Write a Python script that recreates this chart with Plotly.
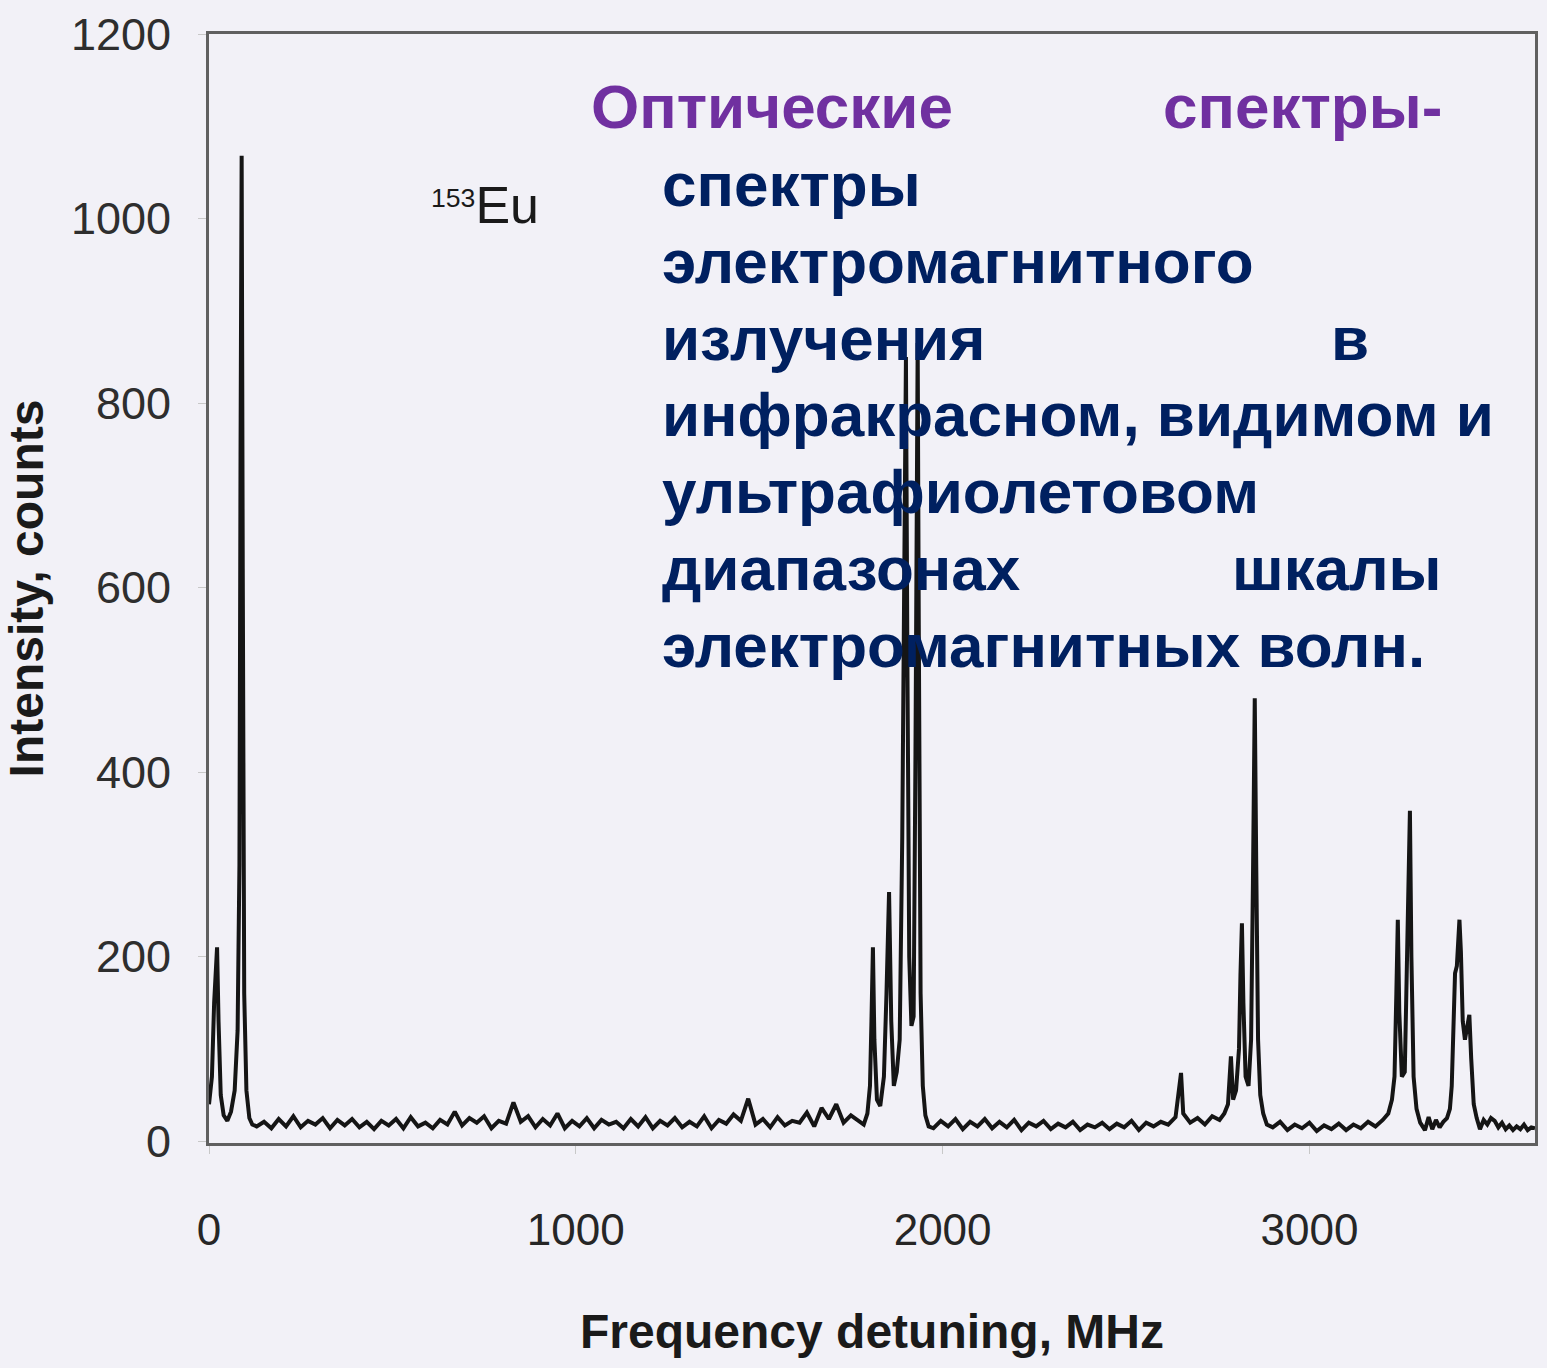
import plotly.graph_objects as go

# ---------------- data ----------------
# left doublet
freq_a = [0, 8, 14, 19, 22, 26, 32, 40, 50, 60, 70, 78, 83, 86, 89, 92, 96, 102, 110, 118]
int_a = [40, 70, 150, 190, 210, 130, 50, 28, 22, 32, 55, 120, 300, 750, 1068, 620, 160, 55, 25, 18]

# baseline 120..1790 MHz (noise)
freq_b = [130, 150, 170, 190, 210, 230, 250, 270, 290, 310, 330, 350, 370, 390, 410, 430,
          450, 470, 490, 510, 530, 550, 570, 590, 610, 630, 650, 670, 690, 710, 730, 750,
          770, 790, 810, 830, 850, 870, 890, 910, 930, 950, 970, 990, 1010, 1030, 1050, 1070,
          1090, 1110, 1130, 1150, 1170, 1190, 1210, 1230, 1250, 1270, 1290, 1310, 1330, 1350,
          1370, 1390, 1410, 1430, 1450, 1470, 1490, 1510, 1530, 1550, 1570, 1590, 1610, 1630,
          1650, 1670, 1690, 1710, 1730, 1750, 1770, 1785]
int_b = [16, 21, 14, 24, 16, 27, 15, 22, 18, 25, 14, 23, 17, 24, 15, 21, 13, 22, 17, 24,
         14, 26, 16, 20, 14, 23, 18, 32, 17, 25, 20, 27, 14, 22, 19, 42, 21, 27, 15, 24,
         17, 30, 14, 22, 16, 25, 14, 23, 18, 21, 14, 24, 16, 26, 14, 22, 17, 25, 15, 21,
         16, 27, 14, 23, 19, 29, 22, 46, 18, 24, 15, 26, 17, 22, 20, 31, 16, 36, 24, 40,
         20, 28, 22, 18]

# first cluster 1800..1960 MHz
freq_c = [1795, 1802, 1806, 1810, 1814, 1821, 1830, 1840, 1847, 1854, 1860, 1867, 1875,
          1883, 1890, 1896, 1900, 1904, 1909, 1915, 1921, 1926, 1929, 1932, 1935, 1940,
          1946, 1953, 1962]
int_c = [30, 60, 130, 210, 110, 45, 38, 70, 160, 270, 130, 60, 75, 110, 330, 620, 850,
         520, 200, 125, 135, 420, 700, 865, 560, 160, 60, 28, 16]

# baseline 1970..2770 MHz
freq_d = [1975, 1995, 2015, 2035, 2055, 2075, 2095, 2115, 2135, 2155, 2175, 2195, 2215,
          2235, 2255, 2275, 2295, 2315, 2335, 2355, 2375, 2395, 2415, 2435, 2455, 2475,
          2495, 2515, 2535, 2555, 2575, 2595, 2615, 2635, 2645, 2650, 2656, 2675, 2695,
          2715, 2735, 2755, 2768]
int_d = [14, 22, 16, 24, 13, 21, 16, 24, 14, 21, 15, 23, 12, 20, 16, 22, 13, 19, 15, 21,
         12, 18, 15, 20, 13, 19, 15, 22, 12, 20, 16, 21, 18, 26, 58, 74, 30, 20, 25, 18,
         27, 23, 30]

# second cluster 2775..2890 MHz
freq_e = [2778, 2786, 2792, 2800, 2808, 2812, 2816, 2820, 2826, 2834, 2841, 2846, 2851,
          2855, 2860, 2866, 2874, 2884]
int_e = [40, 92, 45, 55, 100, 180, 236, 150, 70, 60, 110, 280, 480, 300, 110, 50, 30, 18]

# baseline 2890..3225 MHz
freq_f = [2900, 2920, 2940, 2960, 2980, 3000, 3020, 3040, 3060, 3080, 3100, 3120, 3140,
          3160, 3180, 3200, 3215]
int_f = [15, 21, 12, 18, 14, 20, 11, 17, 13, 19, 12, 18, 14, 21, 16, 23, 30]

# third cluster 3225..3305 MHz
freq_g = [3225, 3232, 3237, 3241, 3245, 3252, 3260, 3265, 3270, 3274, 3278, 3284, 3292, 3302]
int_g = [45, 70, 160, 240, 140, 70, 75, 170, 260, 358, 200, 70, 35, 20]

# baseline 3305..3385 MHz
freq_h = [3315, 3325, 3335, 3345, 3355, 3365, 3375, 3383]
int_h = [12, 26, 13, 23, 15, 21, 25, 35]

# fourth cluster 3385..3460 MHz
freq_i = [3388, 3393, 3397, 3402, 3406, 3409, 3413, 3418, 3424, 3430, 3436, 3441, 3448, 3456]
int_i = [60, 150, 182, 190, 215, 240, 205, 130, 110, 125, 137, 90, 40, 25]

# baseline to right edge
freq_j = [3465, 3475, 3485, 3495, 3505, 3515, 3525, 3535, 3545, 3555, 3565, 3575, 3585,
          3595, 3605, 3615]
int_j = [13, 23, 18, 25, 22, 15, 20, 13, 17, 12, 16, 13, 18, 12, 15, 14]

x_ticks = [0, 1000, 2000, 3000]
y_ticks = [0, 200, 400, 600, 800, 1000, 1200]

x_title = "Frequency detuning, MHz"
y_title = "Intensity, counts"

# ---------------- figure ----------------
freq = freq_a + freq_b + freq_c + freq_d + freq_e + freq_f + freq_g + freq_h + freq_i + freq_j
inten = int_a + int_b + int_c + int_d + int_e + int_f + int_g + int_h + int_i + int_j

BG = "#f2f1f7"
NAVY = "#002060"
PURPLE = "#7030a0"
SANS = "Liberation Sans, Arial, sans-serif"

fig = go.Figure()
fig.add_trace(go.Scatter(x=freq, y=inten, mode="lines",
                         line=dict(color="#151515", width=4), showlegend=False,
                         hoverinfo="skip"))

fig.update_layout(
    width=1547, height=1368,
    paper_bgcolor=BG, plot_bgcolor=BG,
    margin=dict(l=207, r=9, t=32, b=225),
    showlegend=False,
)
fig.update_xaxes(
    range=[0, 3615], tickvals=x_ticks, ticktext=[str(v) for v in x_ticks],
    showgrid=False, zeroline=False, showline=True, linecolor="#606060", linewidth=3,
    mirror=True, ticks="outside", ticklen=8, tickcolor="#c8c8c8",
    ticklabelstandoff=38,
    tickfont=dict(family=SANS, size=44, color="#262626"),
    title=dict(text="<b>" + x_title + "</b>", font=dict(family=SANS, size=48, color="#1a1a1a"),
               standoff=62),
)
fig.update_yaxes(
    range=[-2, 1200], tickvals=y_ticks, ticktext=[str(v) for v in y_ticks],
    showgrid=False, zeroline=False, showline=True, linecolor="#606060", linewidth=3,
    mirror=True, ticks="outside", ticklen=8, tickcolor="#c8c8c8",
    ticklabelstandoff=18,
    tickfont=dict(family=SANS, size=45, color="#2e2e2e"),
    title=dict(text="<b>" + y_title + "</b>", font=dict(family=SANS, size=48, color="#1a1a1a"),
               standoff=28),
)

W = 1547 - 207 - 9
H = 1368 - 32 - 225


def px(xp):
    return (xp - 207) / W


def py(yp):
    return 1 - (yp - 32) / H


# isotope label
fig.add_annotation(xref="paper", yref="paper", x=px(428), y=py(203), xanchor="left",
                   yanchor="middle",
                   text="<span style='font-size:38px'><sup>153</sup></span>Eu",
                   showarrow=False, font=dict(family=SANS, size=52, color="#1a1a1a"))

# overlay text (justified lines)
lines = [
    ("Оптические", 588, None, 105, PURPLE),
    ("спектры-", None, 1447, 105, PURPLE),
    ("спектры", 660, None, 183, NAVY),
    ("электромагнитного", 660, None, 260, NAVY),
    ("излучения", 660, None, 337, NAVY),
    ("в", None, 1373, 337, NAVY),
    ("инфракрасном, видимом и", 660, None, 413, NAVY),
    ("ультрафиолетовом", 660, None, 490, NAVY),
    ("диапазонах", 660, None, 567, NAVY),
    ("шкалы", None, 1447, 567, NAVY),
    ("электромагнитных волн.", 660, None, 645, NAVY),
]
for text, xl, xr, yc, col in lines:
    if xl is not None:
        xa, anc = px(xl), "left"
    else:
        xa, anc = px(xr), "right"
    fig.add_annotation(xref="paper", yref="paper", x=xa, y=py(yc), xanchor=anc,
                       yanchor="middle", text="<b>" + text + "</b>", showarrow=False,
                       font=dict(family=SANS, size=62, color=col))

fig.write_html("out.html",
               config={"displayModeBar": False},
               post_script="document.body.style.margin='0';"
                           "document.body.style.background='" + BG + "';")
